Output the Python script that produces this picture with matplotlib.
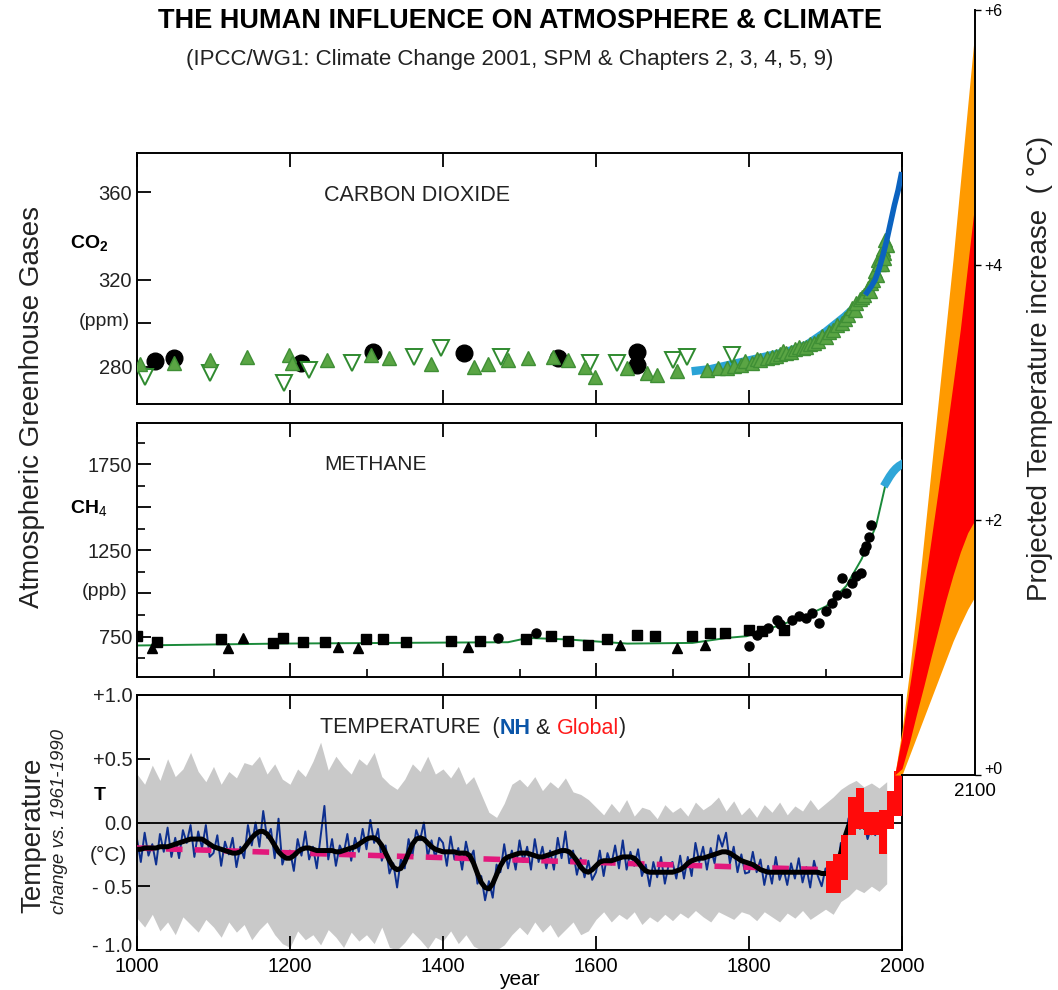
import matplotlib
matplotlib.use('Agg')
import matplotlib.pyplot as plt
from matplotlib.ticker import FixedLocator
from matplotlib.transforms import ScaledTranslation

plt.rcParams['font.family'] = ['Liberation Sans', 'DejaVu Sans']
plt.rcParams['mathtext.fontset'] = 'custom'
plt.rcParams['mathtext.rm'] = 'Liberation Sans'
plt.rcParams['mathtext.bf'] = 'Liberation Sans:bold'
plt.rcParams['mathtext.it'] = 'Liberation Sans:italic'

# ---------------- DATA ----------------
# CO2 (ppm)
co2_up_years = [1004, 1049, 1095, 1144, 1199, 1202, 1248, 1306, 1329, 1384, 1440, 1459, 1485, 1511,
                1544, 1563, 1586, 1599, 1641, 1667, 1680, 1706, 1745, 1760, 1771, 1780, 1790, 1795,
                1804, 1810, 1815, 1823, 1830, 1835, 1840, 1845, 1849, 1855, 1860, 1865, 1870, 1875,
                1880, 1885, 1890, 1895, 1901, 1905, 1910, 1915, 1921, 1925, 1930, 1935, 1938, 1940,
                1945, 1948, 1950, 1955, 1958, 1960, 1962, 1965, 1967, 1969, 1970, 1972, 1974, 1975,
                1976, 1977, 1978, 1980]
co2_up_vals = [281.2, 281.7, 283.3, 284.7, 285.5, 281.7, 283.3, 285.5, 284.0, 281.2, 280.0, 281.2, 283.3, 284.0,
               284.7, 283.3, 280.0, 275.5, 279.4, 277.1, 276.3, 277.9, 278.6, 279.5, 279.4, 280.5, 281.0, 282.5,
               281.7, 283.5, 283.0, 284.0, 284.5, 285.0, 286.0, 287.5, 286.3, 287.0, 288.0, 289.0, 288.5, 289.3,
               290.5, 291.0, 292.0, 294.0, 293.9, 296.0, 297.0, 299.0, 300.0, 302.0, 304.0, 307.0, 306.0, 309.2,
               311.0, 312.0, 313.0, 316.0, 315.0, 318.4, 320.0, 324.0, 322.0, 329.0, 327.0, 330.0, 327.0, 334.0,
               332.0, 330.0, 338.0, 336.0]
co2_open_years = [1010, 1095, 1192, 1225, 1281, 1362, 1398, 1476, 1592, 1628, 1700, 1719, 1778]
co2_open_vals = [275.5, 277.0, 272.5, 278.6, 281.7, 284.7, 288.5, 284.7, 281.7, 281.7, 283.0, 284.7, 285.5]
co2_dot_years = [1023, 1049, 1215, 1309, 1427, 1550, 1654, 1654]
co2_dot_vals = [282.5, 284.0, 281.7, 287.0, 286.3, 284.0, 287.0, 281.0]
co2_lawdome_years = [1725, 1750, 1775, 1800, 1825, 1850, 1875, 1900, 1925, 1950, 1955]
co2_lawdome_vals = [278, 279, 281, 283, 285, 287, 290, 296, 303, 311, 314]
co2_ml_years = [1954, 1960, 1965, 1970, 1975, 1980, 1985, 1990, 1995, 1999]
co2_ml_vals = [314, 317, 320, 325, 331, 338, 346, 354, 361, 368]

# CH4 (ppb)
ch4_fit_years = [1000, 1186, 1485, 1511, 1563, 1641, 1726, 1771, 1797, 1836, 1869, 1901, 1927, 1947, 1966, 1979]
ch4_fit_vals = [698, 709, 717, 742, 733, 709, 713, 742, 752, 810, 859, 926, 1043, 1198, 1391, 1643]
ch4_recent_years = [1979, 1984, 1988, 1992, 1996, 1999]
ch4_recent_vals = [1643, 1680, 1705, 1725, 1740, 1748]
ch4_sq_years = [1000, 1026, 1110, 1178, 1191, 1217, 1246, 1299, 1322, 1351, 1410, 1449, 1508, 1541,
                1563, 1589, 1615, 1654, 1677, 1726, 1749, 1768, 1800, 1817, 1846]
ch4_sq_vals = [752, 720, 733, 713, 742, 720, 720, 733, 733, 720, 725, 725, 733, 755,
               725, 703, 733, 757, 752, 752, 771, 771, 790, 780, 790]
ch4_tri_years = [1020, 1119, 1139, 1263, 1289, 1433, 1631, 1706, 1742]
ch4_tri_vals = [686, 686, 742, 690, 686, 690, 703, 686, 703]
ch4_dot_years = [1472, 1521, 1800, 1810, 1825, 1836, 1840, 1856, 1865, 1875, 1882, 1892, 1900, 1908,
                 1915, 1921, 1927, 1935, 1940, 1947, 1950, 1953, 1957, 1960]
ch4_dot_vals = [742, 772, 694, 760, 800, 848, 820, 848, 870, 860, 887, 830, 900, 945,
                990, 1090, 1005, 1060, 1100, 1120, 1245, 1275, 1330, 1400]

# Temperature (deg C, vs 1961-1990)
nh_years = list(range(1000, 1981, 5))
nh_vals = [
    -0.13, -0.31, -0.08, -0.26, -0.17, -0.33, -0.09, -0.23, -0.04, -0.27, -0.12, -0.28, -0.06, -0.16, -0.02, -0.27, -0.07, -0.20, -0.02, -0.27,
    -0.24, -0.10, -0.34, -0.15, -0.25, -0.12, -0.35, -0.19, -0.28, -0.02, -0.18, 0.00, -0.19, 0.09, -0.12, -0.05, -0.28, 0.03, -0.33, -0.23,
    -0.22, -0.38, -0.13, -0.26, -0.07, -0.29, -0.19, -0.36, -0.11, 0.13, -0.29, -0.13, -0.34, -0.18, -0.25, -0.09, -0.30, -0.12, -0.23, -0.05,
    -0.21, 0.02, -0.16, -0.05, -0.30, -0.18, -0.40, -0.32, -0.51, -0.28, -0.36, -0.13, -0.26, -0.06, -0.14, 0.00, -0.27, -0.14, -0.28, -0.12,
    -0.16, -0.34, -0.11, -0.29, -0.20, -0.37, -0.15, -0.29, -0.22, -0.48, -0.42, -0.61, -0.46, -0.59, -0.33, -0.39, -0.17, -0.36, -0.22, -0.37,
    -0.14, -0.31, -0.19, -0.37, -0.13, -0.31, -0.19, -0.36, -0.22, -0.37, -0.12, -0.28, -0.07, -0.32, -0.22, -0.41, -0.28, -0.43, -0.30, -0.45,
    -0.39, -0.22, -0.42, -0.24, -0.33, -0.18, -0.36, -0.14, -0.37, -0.23, -0.34, -0.21, -0.42, -0.33, -0.50, -0.31, -0.43, -0.27, -0.48, -0.33,
    -0.31, -0.44, -0.26, -0.44, -0.27, -0.42, -0.16, -0.31, -0.19, -0.37, -0.20, -0.32, -0.10, -0.19, -0.08, -0.32, -0.19, -0.39, -0.25, -0.40,
    -0.39, -0.23, -0.39, -0.29, -0.49, -0.34, -0.48, -0.27, -0.45, -0.36, -0.49, -0.32, -0.44, -0.28, -0.47, -0.35, -0.51, -0.30, -0.42, -0.50,
    -0.36, -0.47, -0.32, -0.39, -0.16, -0.17, 0.03, 0.10, 0.08, -0.05, 0.01, -0.13, -0.03, -0.10, 0.04, -0.03, 0.06]
smooth_vals = [
    -0.21, -0.21, -0.20, -0.20, -0.20, -0.20, -0.19, -0.19, -0.19, -0.18, -0.17, -0.16, -0.15, -0.14, -0.13, -0.13, -0.13, -0.13, -0.15, -0.17,
    -0.19, -0.20, -0.21, -0.22, -0.23, -0.24, -0.24, -0.23, -0.20, -0.16, -0.12, -0.09, -0.07, -0.07, -0.09, -0.13, -0.18, -0.23, -0.26, -0.28,
    -0.28, -0.26, -0.23, -0.21, -0.20, -0.20, -0.21, -0.22, -0.22, -0.22, -0.22, -0.22, -0.23, -0.23, -0.22, -0.21, -0.20, -0.19, -0.17, -0.15,
    -0.13, -0.12, -0.12, -0.14, -0.18, -0.24, -0.30, -0.35, -0.37, -0.36, -0.31, -0.24, -0.17, -0.13, -0.12, -0.13, -0.16, -0.19, -0.21, -0.22,
    -0.23, -0.23, -0.23, -0.23, -0.24, -0.24, -0.24, -0.26, -0.32, -0.40, -0.47, -0.51, -0.52, -0.48, -0.41, -0.34, -0.29, -0.27, -0.26, -0.25,
    -0.24, -0.24, -0.24, -0.25, -0.26, -0.27, -0.27, -0.26, -0.25, -0.24, -0.23, -0.22, -0.22, -0.23, -0.26, -0.30, -0.35, -0.38, -0.39, -0.37,
    -0.34, -0.31, -0.30, -0.30, -0.30, -0.29, -0.28, -0.27, -0.27, -0.27, -0.28, -0.31, -0.35, -0.38, -0.39, -0.39, -0.39, -0.39, -0.39, -0.39,
    -0.39, -0.38, -0.37, -0.35, -0.32, -0.30, -0.29, -0.28, -0.28, -0.27, -0.26, -0.25, -0.24, -0.23, -0.23, -0.24, -0.26, -0.28, -0.30, -0.31,
    -0.32, -0.33, -0.35, -0.37, -0.38, -0.39, -0.39, -0.39, -0.39, -0.39, -0.39, -0.39, -0.39, -0.39, -0.39, -0.39, -0.39, -0.39, -0.39, -0.40,
    -0.40, -0.39, -0.37, -0.33, -0.24, -0.12, -0.03, 0.02, 0.03, 0.01, -0.03, -0.06, -0.08, -0.06, -0.02, 0.02, 0.03]
band_years = list(range(1000, 1981, 10))
band_hi = [
    0.38, 0.30, 0.45, 0.33, 0.50, 0.36, 0.42, 0.55, 0.40, 0.32,
    0.44, 0.30, 0.40, 0.35, 0.47, 0.45, 0.52, 0.38, 0.46, 0.34,
    0.30, 0.42, 0.36, 0.48, 0.63, 0.41, 0.52, 0.44, 0.38, 0.50,
    0.45, 0.55, 0.36, 0.30, 0.26, 0.34, 0.46, 0.40, 0.52, 0.38,
    0.42, 0.35, 0.44, 0.30, 0.36, 0.22, 0.08, 0.04, 0.15, 0.30,
    0.34, 0.28, 0.36, 0.25, 0.32, 0.27, 0.35, 0.24, 0.22, 0.18,
    0.12, 0.06, 0.15, 0.08, 0.18, 0.05, 0.12, 0.10, 0.03, 0.14,
    0.08, 0.12, 0.05, 0.16, 0.10, 0.14, 0.20, 0.09, 0.17, 0.06,
    0.12, 0.04, 0.14, 0.08, 0.16, 0.06, 0.13, 0.09, 0.18, 0.10,
    0.15, 0.20, 0.26, 0.30, 0.33, 0.28, 0.31, 0.27, 0.32]
band_lo = [
    -0.75, -0.82, -0.72, -0.85, -0.78, -0.88, -0.74, -0.80, -0.86, -0.76,
    -0.82, -0.90, -0.78, -0.86, -0.80, -0.92, -0.84, -0.78, -0.88, -0.95,
    -0.98, -0.85, -0.92, -0.88, -0.96, -0.84, -0.90, -0.98, -0.86, -0.93,
    -0.88, -0.95, -0.82, -0.98, -1.00, -0.94, -0.86, -0.92, -0.99, -0.90,
    -0.93, -0.85, -0.95, -0.88, -0.97, -1.00, -1.00, -1.00, -0.96, -0.88,
    -0.82, -0.88, -0.78, -0.86, -0.80, -0.90, -0.84, -0.78, -0.88, -0.85,
    -0.76, -0.70, -0.78, -0.72, -0.76, -0.70, -0.80, -0.74, -0.78, -0.72,
    -0.77, -0.71, -0.75, -0.69, -0.74, -0.78, -0.70, -0.73, -0.76, -0.70,
    -0.72, -0.77, -0.70, -0.74, -0.78, -0.71, -0.75, -0.69, -0.76, -0.72,
    -0.68, -0.72, -0.62, -0.58, -0.52, -0.55, -0.50, -0.54, -0.48]
trend_years = [1000, 1900]
trend_vals = [-0.20, -0.37]
glob_years = [1900, 1910, 1920, 1930, 1940, 1950, 1960, 1970, 1980, 1990, 2000]
glob_lo = [-0.55, -0.55, -0.45, -0.10, -0.05, -0.10, -0.10, -0.25, -0.05, 0.05, 0.20]
glob_hi = [-0.30, -0.25, -0.10, 0.20, 0.27, 0.08, 0.08, 0.10, 0.25, 0.40, 0.50]

# Projections (deg C above 1990)
proj_years = [1990, 2000, 2010, 2020, 2030, 2040, 2050, 2060, 2070, 2080, 2090, 2100]
orange_hi = [0.00, 0.35, 0.80, 1.30, 1.85, 2.40, 2.95, 3.50, 4.05, 4.65, 5.25, 5.85]
orange_lo = [0.00, 0.00, 0.15, 0.30, 0.45, 0.60, 0.75, 0.90, 1.05, 1.18, 1.30, 1.40]
red_hi = [0.00, 0.30, 0.68, 1.05, 1.45, 1.85, 2.25, 2.65, 3.07, 3.50, 4.00, 4.50]
red_lo = [0.00, 0.05, 0.25, 0.48, 0.70, 0.93, 1.15, 1.37, 1.57, 1.75, 1.90, 2.00]

year_ticks = [1000, 1200, 1400, 1600, 1800, 2000]
year_labels = ['1000', '1200', '1400', '1600', '1800', '2000']
co2_ticks = [280, 300, 320, 360]
co2_labels = ['280', '', '320', '360']
ch4_ticks = [750, 1000, 1250, 1500, 1750]
ch4_labels = ['750', '', '1250', '', '1750']
ch4_minor = [625, 875, 1125, 1375, 1625, 1875]
t_ticks = [-1.0, -0.5, 0.0, 0.5, 1.0]
t_labels = ['- 1.0', '- 0.5', '0.0', '+0.5', '+1.0']
p_ticks = [0, 2, 4, 6]
p_labels = ['+0', '+2', '+4', '+6']

# ---------------- FIGURE ----------------
W, H = 1058, 990
fig = plt.figure(figsize=(W / 100, H / 100), dpi=100)


def box(left, top, right, bottom):
    return [left / W, 1 - bottom / H, (right - left) / W, (bottom - top) / H]


ax1 = fig.add_axes(box(137, 153, 902, 404))
ax2 = fig.add_axes(box(137, 423, 902, 677))
ax3 = fig.add_axes(box(137, 695, 902, 950))
axp = fig.add_axes(box(902, 10, 975, 775))
axp.set_zorder(5)
axp.patch.set_visible(False)

TXT = '#222222'
for ax in (ax1, ax2, ax3):
    ax.set_xlim(1000, 2000)
    for s in ax.spines.values():
        s.set_linewidth(1.4)
    ax.set_xticks(year_ticks)
    ax.tick_params(direction='in', length=10, width=1.3, top=True, bottom=True,
                   labelsize=14.5, colors='black')
    ax.tick_params(axis='y', labelcolor=TXT)

# --- CO2 ---
ax1.set_ylim(263, 378)
ax1.set_yticks(co2_ticks)
ax1.set_yticklabels(co2_labels)
ax1.tick_params(labelbottom=False)
ax1.plot(co2_lawdome_years, co2_lawdome_vals, color='#2aa3d6', lw=6, solid_capstyle='butt', zorder=2)
ax1.plot(co2_dot_years, co2_dot_vals, 'o', color='black', ms=12, zorder=3)
ax1.plot(co2_open_years, co2_open_vals, 'v', mfc='white', mec='#2f8a2f', mew=1.4, ms=12, zorder=4)
ax1.plot(co2_up_years, co2_up_vals, '^', color='#5aa544', mec='#3f8f35', ms=10, zorder=5)
ax1.plot(co2_ml_years, co2_ml_vals, color='#0b63c0', lw=4, zorder=6)
ax1.text(0.245, 0.83, 'CARBON DIOXIDE', transform=ax1.transAxes, fontsize=15.5, color=TXT,
         ha='left', va='center')

# --- CH4 ---
ax2.set_ylim(515, 1990)
ax2.yaxis.set_major_locator(FixedLocator(ch4_ticks))
ax2.set_yticklabels(ch4_labels)
ax2.yaxis.set_minor_locator(FixedLocator(ch4_minor))
ax2.xaxis.set_minor_locator(FixedLocator([1100, 1300, 1500, 1700, 1900]))
ax2.tick_params(which='minor', direction='in', length=6, width=1.2, top=False, bottom=True)
ax2.tick_params(labelbottom=False)
ax2.plot(ch4_fit_years, ch4_fit_vals, color='#1a8a3a', lw=1.4, zorder=2)
ax2.plot(ch4_recent_years, ch4_recent_vals, color='#2fa6d8', lw=6, zorder=3)
ax2.plot(ch4_sq_years, ch4_sq_vals, 's', color='black', ms=6.5, zorder=4)
ax2.plot(ch4_tri_years, ch4_tri_vals, '^', color='black', ms=6.5, zorder=4)
ax2.plot(ch4_dot_years, ch4_dot_vals, 'o', color='black', ms=6.5, zorder=4)
ax2.text(0.245, 0.835, 'METHANE', transform=ax2.transAxes, fontsize=15, color=TXT,
         ha='left', va='center')

# --- Temperature ---
ax3.set_ylim(-1.0, 1.0)
ax3.set_yticks(t_ticks)
ax3.set_yticklabels(t_labels)
ax3.set_xticklabels(year_labels)
ax3.tick_params(axis='y', length=9)
ax3.tick_params(axis='x', pad=5)
lbl = ax3.get_yticklabels()[0]
lbl.set_transform(lbl.get_transform() + ScaledTranslation(0, 4 / 72, fig.dpi_scale_trans))
ax3.fill_between(band_years, band_lo, band_hi, color='#c9c9c9', lw=0, zorder=1)
ax3.plot(nh_years, nh_vals, color='#0d2f8f', lw=1.4, zorder=2)
ax3.axhline(0, color='black', lw=1.3, zorder=3)
ax3.plot(trend_years, trend_vals, color='#e2187c', lw=4, dashes=(3, 2.2), zorder=4)
ax3.plot(nh_years, smooth_vals, color='black', lw=3.6, zorder=5, solid_capstyle='round')
ax3.fill_between(glob_years, glob_lo, glob_hi, step='post', color='#ff0a0a', lw=0, zorder=6)
ax3.set_xlabel('year', fontsize=15, labelpad=-4)

# --- Projection axis ---
axp.set_xlim(2000, 2100)
axp.set_ylim(0, 6)
axp.spines['left'].set_visible(False)
axp.spines['top'].set_visible(False)
axp.spines['right'].set_linewidth(1.4)
axp.spines['bottom'].set_linewidth(1.4)
axp.yaxis.tick_right()
axp.set_yticks(p_ticks)
axp.set_yticklabels(p_labels)
axp.tick_params(axis='y', direction='out', length=4, width=1.0, labelsize=11.5, pad=3)
plbl = axp.get_yticklabels()[0]
plbl.set_transform(plbl.get_transform() + ScaledTranslation(0, 5 / 72, fig.dpi_scale_trans))
axp.set_xticks([2100])
axp.set_xticklabels(['2100'])
axp.tick_params(axis='x', length=0, labelsize=13.5, pad=6)
axp.fill_between(proj_years, orange_lo, orange_hi, color='#ff9a00', lw=0, clip_on=False, zorder=1)
axp.fill_between(proj_years, red_lo, red_hi, color='#ff0000', lw=0, clip_on=False, zorder=2)

# --- Texts ---
def px(x, y):
    return x / W, 1 - y / H

fig.text(*px(520, 21), 'THE HUMAN INFLUENCE ON ATMOSPHERE & CLIMATE', fontsize=19.5,
         fontweight='bold', ha='center', va='center')
fig.text(*px(510, 60), '(IPCC/WG1: Climate Change 2001, SPM & Chapters 2, 3, 4, 5, 9)',
         fontsize=16, ha='center', va='center', color=TXT)

fig.text(*px(32, 407), 'Atmospheric Greenhouse Gases', rotation=90, fontsize=20,
         ha='center', va='center', color=TXT)
fig.text(*px(33, 835), 'Temperature', rotation=90, fontsize=20, ha='center', va='center',
         color=TXT)
fig.text(*px(59, 822), 'change vs. 1961-1990', rotation=90, fontsize=13.5, style='italic',
         ha='center', va='center', color=TXT)
fig.text(*px(1040, 368), 'Projected Temperature increase  ( \u00b0C)', rotation=90, fontsize=20,
         ha='center', va='center', color=TXT)

fig.text(*px(89, 243), r'$\mathbf{CO_2}$', fontsize=14, ha='center', va='center')
fig.text(*px(104, 321), '(ppm)', fontsize=14, ha='center', va='center', color=TXT)
fig.text(*px(89, 508), r'$\mathbf{CH}_4$', fontsize=14, ha='center', va='center')
fig.text(*px(105, 592), '(ppb)', fontsize=14, ha='center', va='center', color=TXT)
fig.text(*px(100, 795), 'T', fontsize=14, fontweight='bold', ha='center', va='center')
fig.text(*px(108, 855), '(\u00b0C)', fontsize=15, ha='center', va='center', color=TXT)

# Multi-coloured panel title for temperature
renderer = fig.canvas.get_renderer()
parts = [('TEMPERATURE  (', TXT, 'normal'), ('NH', '#0a55a8', 'bold'),
         (' & ', TXT, 'normal'), ('Global', '#ff1a1a', 'normal'), (')', TXT, 'normal')]
xcur = 320
for s, c, w in parts:
    t = fig.text(*px(xcur, 728), s, fontsize=15.5, color=c, fontweight=w, ha='left', va='center')
    bb = t.get_window_extent(renderer=renderer)
    xcur += bb.width

fig.savefig('out.png', dpi=100)
